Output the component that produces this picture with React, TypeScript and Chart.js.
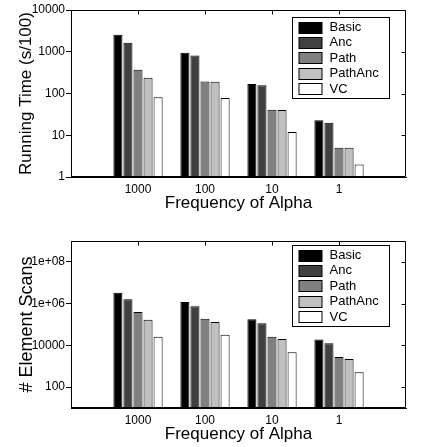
import React, { useEffect, useRef } from "react";
import { Chart, registerables } from "chart.js";

Chart.register(...registerables);

const categories = ["1000", "100", "10", "1"];
const seriesNames = ["Basic", "Anc", "Path", "PathAnc", "VC"];
const seriesColors = ["#000000", "#404040", "#808080", "#c0c0c0", "#ffffff"];

// Running time (s/100)
const timeBasic = [2550, 950, 168, 23];
const timeAnc = [1650, 810, 158, 20];
const timePath = [370, 195, 41, 5];
const timePathAnc = [240, 190, 40, 5];
const timeVC = [81, 78, 12, 2];

// Element scans
const scanBasic = [3.3e6, 1.2e6, 1.8e5, 1.9e4];
const scanAnc = [1.6e6, 7.5e5, 1.15e5, 1.26e4];
const scanPath = [4.0e5, 1.9e5, 2.6e4, 2.8e3];
const scanPathAnc = [1.7e5, 1.3e5, 2.0e4, 2.2e3];
const scanVC = [2.6e4, 3.2e4, 4.7e3, 5.1e2];

const timeTickValues = [1, 10, 100, 1000, 10000];
const timeTickLabels = ["1", "10", "100", "1000", "10000"];
const scanTickValues = [100, 1e4, 1e6, 1e8];
const scanTickLabels = ["100", "10000", "1e+06", "1e+08"];

const FONT = "'Liberation Sans', Arial, Helvetica, sans-serif";

const framePlugin = {
  id: "frameLegend",
  afterDraw(chart: any, _args: any, opts: any) {
    const { ctx, chartArea, scales } = chart;
    const { left, right, top, bottom } = chartArea;
    const L = Math.round(left) + 0.5;
    const R = Math.round(right) - 0.5;
    const T = Math.round(top) + 0.5;
    const B = Math.round(bottom) - 0.5;
    ctx.save();
    ctx.strokeStyle = "#000";
    ctx.lineWidth = 1;
    ctx.beginPath();
    ctx.moveTo(L, T);
    ctx.lineTo(R, T);
    ctx.lineTo(R, B);
    ctx.lineTo(L, B);
    ctx.closePath();
    ctx.stroke();
    // inward ticks on top at categories
    ctx.beginPath();
    const xs = scales.x;
    for (let i = 1; i <= categories.length; i++) {
      const x = Math.round(xs.getPixelForValue(i)) + 0.5;
      ctx.moveTo(x, T);
      ctx.lineTo(x, T + 4);
    }
    // inward ticks on right
    const ys = scales.y;
    for (const v of opts.tickValues) {
      const y = Math.round(ys.getPixelForValue(v)) + 0.5;
      ctx.moveTo(R, y);
      ctx.lineTo(R - 4, y);
    }
    ctx.stroke();

    // legend
    const boxW = 97;
    const boxH = 81;
    const bx = Math.round(right - 17 - boxW) + 0.5;
    const by = Math.round(top + opts.legendTop) + 0.5;
    ctx.fillStyle = "#fff";
    ctx.fillRect(bx, by, boxW, boxH);
    ctx.strokeRect(bx, by, boxW, boxH);
    ctx.font = `13px ${FONT}`;
    ctx.textBaseline = "middle";
    ctx.textAlign = "left";
    chart.data.datasets.forEach((ds: any, i: number) => {
      const cy = by + 9.5 + i * 15.4;
      const sy = Math.round(cy - 5.5) + 0.5;
      ctx.fillStyle = ds.backgroundColor;
      ctx.fillRect(bx + 6.5, sy, 23, 11);
      ctx.strokeStyle = "#000";
      ctx.strokeRect(bx + 6.5, sy, 23, 11);
      ctx.fillStyle = "#000";
      ctx.fillText(ds.label, bx + 37, cy + 0.5);
    });
    ctx.restore();
  },
};

function buildConfig(
  series: number[][],
  yMin: number,
  yMax: number,
  tickValues: number[],
  tickLabels: string[],
  yTitle: string,
  yTitleSize: number,
  padTop: number,
  xHeight: number,
  xTitlePad: number,
  legendTop: number
): any {
  const labels = ["", ...categories, ""];
  return {
    type: "bar",
    data: {
      labels,
      datasets: series.map((vals, i) => ({
        label: seriesNames[i],
        data: [null, ...vals, null],
        backgroundColor: seriesColors[i],
        borderColor: "#000",
        borderWidth: 1,
        borderSkipped: false,
        categoryPercentage: 0.75,
        barPercentage: 0.9,
      })),
    },
    options: {
      responsive: false,
      animation: false,
      devicePixelRatio: 1,
      layout: { padding: { top: padTop, left: 0, right: 16, bottom: 0 } },
      plugins: {
        legend: { display: false },
        tooltip: { enabled: false },
        frameLegend: { tickValues, legendTop },
      },
      scales: {
        x: {
          type: "category",
          offset: false,
          grid: { display: false, drawTicks: false, tickLength: 0 },
          border: { display: true, color: "#000" },
          ticks: {
            font: { family: FONT, size: 12 },
            color: "#000",
            padding: 5,
            maxRotation: 0,
            autoSkip: false,
          },
          title: {
            display: true,
            text: "Frequency of Alpha",
            font: { family: FONT, size: 17 },
            color: "#000",
            padding: { top: 0, bottom: xTitlePad },
          },
          afterFit: (s: any) => {
            s.height = xHeight;
          },
        },
        y: {
          type: "logarithmic",
          min: yMin,
          max: yMax,
          afterBuildTicks: (s: any) => {
            s.ticks = tickValues.map((v) => ({ value: v }));
          },
          grid: {
            display: true,
            drawOnChartArea: false,
            drawTicks: true,
            tickLength: 5,
            color: "#000",
          },
          border: { display: true, color: "#000" },
          ticks: {
            font: { family: FONT, size: 12 },
            color: "#000",
            padding: 1,
            autoSkip: false,
            callback: (v: number) => {
              const i = tickValues.indexOf(v);
              return i >= 0 ? tickLabels[i] : "";
            },
          },
          title: {
            display: true,
            text: yTitle,
            font: { family: FONT, size: yTitleSize },
            color: "#000",
            padding: { top: 16, bottom: 0 },
          },
          afterFit: (s: any) => {
            s.width = 71;
          },
        },
      },
    },
    plugins: [framePlugin],
  };
}

export default function App() {
  const topRef = useRef<HTMLCanvasElement>(null);
  const botRef = useRef<HTMLCanvasElement>(null);

  useEffect(() => {
    const c1 = new Chart(
      topRef.current!,
      buildConfig(
        [timeBasic, timeAnc, timePath, timePathAnc, timeVC],
        1,
        10000,
        timeTickValues,
        timeTickLabels,
        "Running Time (s/100)",
        17,
        10,
        43,
        6,
        6.5
      )
    );
    const c2 = new Chart(
      botRef.current!,
      buildConfig(
        [scanBasic, scanAnc, scanPath, scanPathAnc, scanVC],
        10,
        1e9,
        scanTickValues,
        scanTickLabels,
        "# Element Scans",
        18,
        21,
        39,
        2,
        3.5
      )
    );
    return () => {
      c1.destroy();
      c2.destroy();
    };
  }, []);

  return (
    <div style={{ position: "absolute", left: 0, top: 0, width: 422, height: 447, background: "#fff" }}>
      <canvas ref={topRef} width={422} height={220} style={{ display: "block" }} />
      <canvas ref={botRef} width={422} height={227} style={{ display: "block" }} />
    </div>
  );
}
